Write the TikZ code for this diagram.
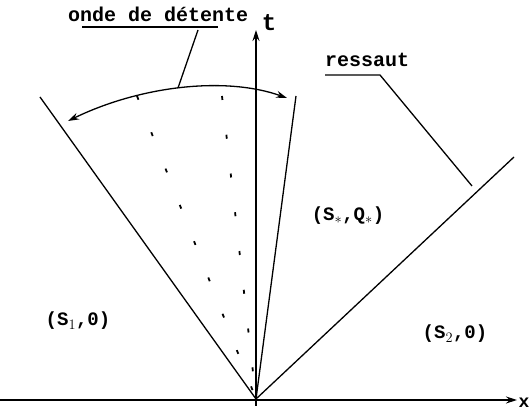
\documentclass[tikz,border=0pt]{standalone}
\usepackage{fontspec}
\setmonofont{Liberation Mono}
\usetikzlibrary{arrows.meta}
\begin{document}
\begin{tikzpicture}[x=1pt,y=1pt,
  ln/.style={line width=1.3pt,black},
  fan/.style={line width=1.8pt,dash pattern=on 4pt off 35pt},
  tip/.style={-{Stealth[length=11pt,width=7pt]}},
  lbl/.style={font=\ttfamily\bfseries\fontsize{20}{22}\selectfont,inner sep=0pt},
  reg/.style={font=\ttfamily\bfseries\fontsize{19}{22}\selectfont,inner sep=0pt}]
\useasboundingbox (0,0) rectangle (530,414);
% key points
\coordinate (O) at (256,15);
\coordinate (xs) at (0,14);
\coordinate (xe) at (517,14);
\coordinate (ts) at (256,8);
\coordinate (te) at (256,384);
\coordinate (head) at (40,317);
\coordinate (f1) at (137,318);
\coordinate (f2) at (222,318);
\coordinate (tail) at (296,318);
\coordinate (shock) at (514,257);
\coordinate (arcL) at (68,293);
\coordinate (arcR) at (287,316);
\coordinate (ondeA) at (178,326);
\coordinate (ondeB) at (198,384);
\coordinate (ulOs) at (82,387);
\coordinate (ulOe) at (218,387);
\coordinate (ulRs) at (325,339);
\coordinate (ulRe) at (380,339);
\coordinate (resA) at (472,228);
% axes
\draw[ln,tip] (xs) -- (xe);
\draw[ln,tip] (ts) -- (te);
\node[font=\ttfamily\bfseries\fontsize{18}{20}\selectfont,inner sep=0pt] (xl) at (524,11) {x};
\node[font=\ttfamily\bfseries\fontsize{24}{26}\selectfont,inner sep=0pt,anchor=base] (tl) at (269,383) {t};
% waves
\draw[ln] (O) -- (head);
\draw[ln] (O) -- (tail);
\draw[ln] (O) -- (shock);
\draw[fan] (f1) -- (O);
\draw[fan] (f2) -- (O);
% arc with arrows
\draw[ln,{Stealth[length=11pt,width=7pt]}-{Stealth[length=11pt,width=7pt]}] (arcL) .. controls (140,328) and (225,338) .. (arcR);
% labels
\node[lbl,anchor=base west] (onde) at (68,392) {onde de détente};
\draw[ln] (ulOs) -- (ulOe);
\draw[ln] (ondeB) -- (ondeA);
\node[lbl,anchor=base west] (ress) at (325,347) {ressaut};
\draw[ln] (ulRs) -- (ulRe) -- (resA);
% regions
\node[reg] (r1) at (78,93) {(S$_1$,0)};
\node[reg] (r2) at (348,198) {(S$_*$,Q$_*$)};
\node[reg] (r3) at (455,80) {(S$_2$,0)};
\end{tikzpicture}
\end{document}
